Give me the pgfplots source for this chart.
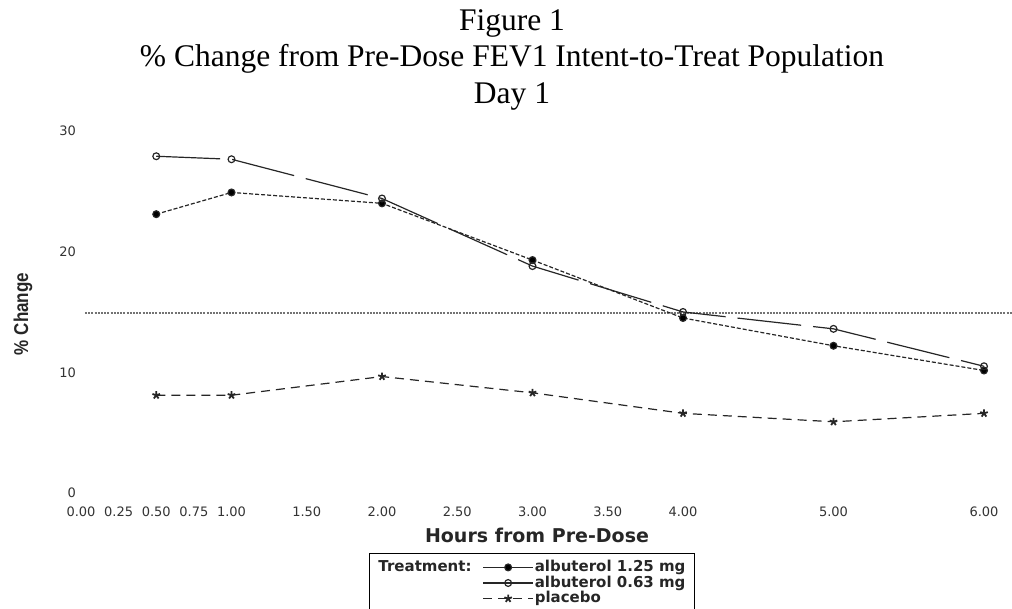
\documentclass[border=0pt]{standalone}
\usepackage{fontspec}
\setmainfont{Liberation Serif}
\newfontfamily\dejavu{DejaVu Sans}
\newfontfamily\ylabfont[FakeStretch=0.85]{Liberation Sans}
\usepackage{pgfplots}
\pgfplotsset{compat=1.18}
\usetikzlibrary{plotmarks}
\begin{document}
\begin{tikzpicture}
\useasboundingbox (0,0) rectangle (506pt,-304.5pt);
\begin{axis}[
  at={(40.5pt,-246.5pt)}, anchor=south west,
  scale only axis, width=465.8pt, height=181.05pt,
  xmin=0, xmax=6.19, ymin=0, ymax=30,
  clip=false,
  axis x line*=bottom, axis y line*=left,
  axis line style={draw=none},
  major tick length=0pt,
  xtick={0,0.25,0.5,0.75,1,1.5,2,2.5,3,3.5,4,5,6},
  ytick={0,10,20,30},
  /pgf/number format/assume math mode=true,
  xticklabel={\pgfmathprintnumber[fixed,fixed zerofill,precision=2]{\tick}},
  xticklabel style={font=\dejavu\fontsize{6.5}{7}\selectfont, text=black!80, yshift=-3.5pt},
  yticklabel style={font=\dejavu\fontsize{6.5}{7}\selectfont, text=black!80, xshift=1pt},
  legend columns=2,
  legend cell align=left,
  legend style={at={(0.309,-0.1657)}, anchor=north west, draw=black, line width=0.6pt,
    font=\dejavu\bfseries\fontsize{7.5}{8}\selectfont, text=black!85,
    inner xsep=4pt, inner ysep=3pt,
    nodes={text height=5.5pt, text depth=1.5pt, inner ysep=0.4pt, inner xsep=0.5pt},
    column sep=0pt,
    /tikz/every even column/.append style={column sep=5pt}},
  legend image code/.code={\draw[mark repeat=2,mark phase=2,#1] plot coordinates {(0pt,0pt)(12.5pt,0pt)(25pt,0pt)};},
]
% reference line
\addplot[forget plot, black!55, line width=0.7pt, dash pattern=on 1pt off 0.6pt] coordinates {(0.027,14.9) (6.19,14.9)};
% albuterol 1.25 mg
\addplot[forget plot, black!85, line width=0.6pt, dash pattern=on 2pt off 1pt, mark=*, mark size=1.7pt, mark options={solid, fill=black}]
 coordinates {(0.5,23.1) (1,24.9) (2,24.0) (3,19.3) (4,14.5) (5,12.2) (6,10.15)};
% albuterol 0.63 mg
\addplot[forget plot, black!85, line width=0.6pt, dash pattern=on 32pt off 6pt, mark=o, mark size=1.7pt, mark options={solid, fill=white}]
 coordinates {(0.5,27.9) (1,27.65) (2,24.4) (3,18.8) (4,15.0) (5,13.6) (6,10.5)};
% placebo
\addplot[forget plot, black!85, line width=0.6pt, dash pattern=on 4.5pt off 3pt, mark=star, mark size=2pt, mark options={solid, line width=0.9pt}]
 coordinates {(0.5,8.1) (1,8.1) (2,9.65) (3,8.3) (4,6.6) (5,5.9) (6,6.6)};
% legend
\addlegendimage{empty legend}\addlegendentry{Treatment:}
\addlegendimage{black!85, line width=0.6pt, mark=*, mark size=1.7pt, mark options={fill=black}}\addlegendentry{albuterol 1.25 mg}
\addlegendimage{empty legend}\addlegendentry{}
\addlegendimage{black!85, line width=0.6pt, mark=o, mark size=1.7pt, mark options={fill=white}}\addlegendentry{albuterol 0.63 mg}
\addlegendimage{empty legend}\addlegendentry{}
\addlegendimage{black!85, line width=0.6pt, dash pattern=on 4.5pt off 3pt, mark=star, mark size=2pt, mark options={solid, line width=0.9pt}}\addlegendentry{placebo}
\end{axis}
\node[anchor=north, align=center, font=\fontsize{15.75}{18.25}\selectfont, inner sep=0pt] at (256pt,-4.6pt)
  {Figure 1\\\% Change from Pre-Dose FEV1 Intent-to-Treat Population\\Day 1};
\node[rotate=90, font=\ylabfont\bfseries\fontsize{10}{12}\selectfont, text=black!85] at (11.5pt,-157pt) {\% Change};
\node[font=\dejavu\bfseries\fontsize{9.5}{11}\selectfont, text=black!85] at (268.5pt,-267.5pt) {Hours from Pre-Dose};
\end{tikzpicture}
\end{document}
